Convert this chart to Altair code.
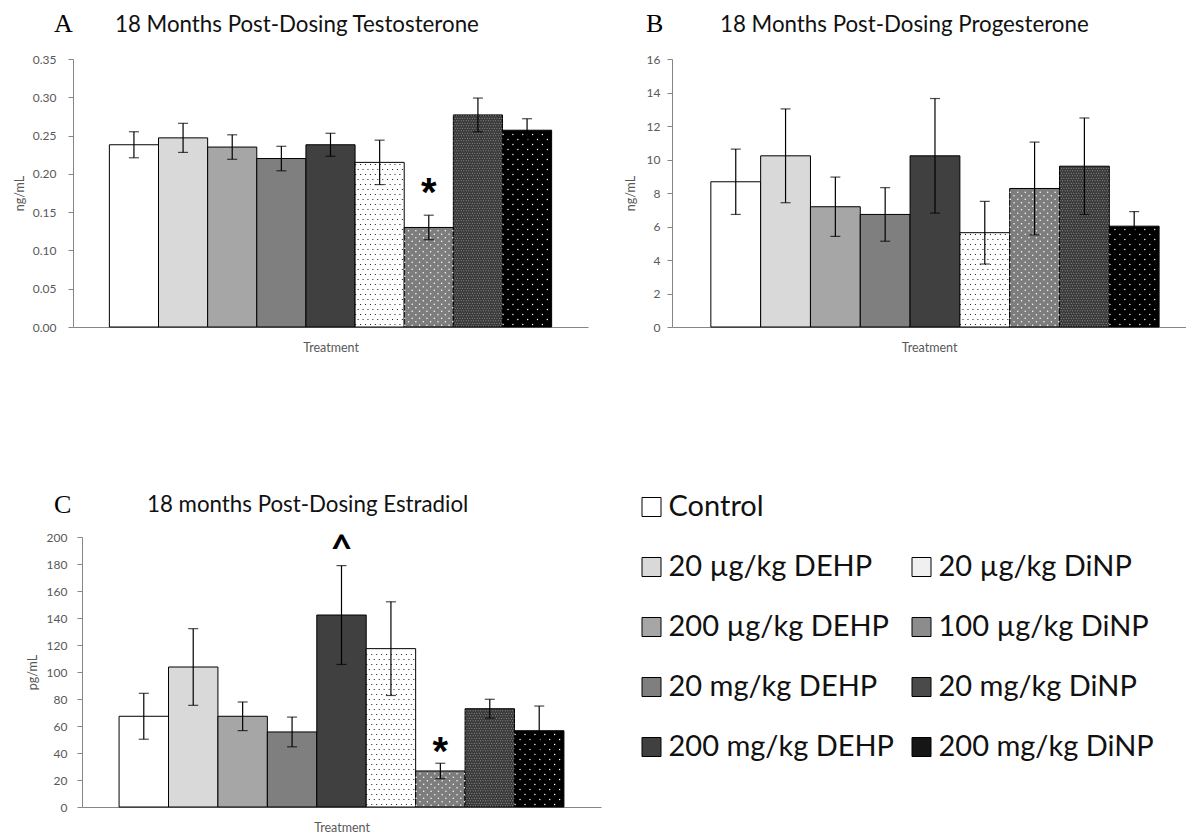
import altair as alt
import pandas as pd

# ---------------- data ----------------
treatments = ["Control", "20 µg/kg DEHP", "200 µg/kg DEHP", "20 mg/kg DEHP", "200 mg/kg DEHP",
              "20 µg/kg DiNP", "100 µg/kg DiNP", "20 mg/kg DiNP", "200 mg/kg DiNP"]

testo_mean = [0.238, 0.247, 0.235, 0.220, 0.238, 0.215, 0.130, 0.277, 0.257]
testo_err = [0.017, 0.019, 0.016, 0.016, 0.015, 0.029, 0.016, 0.022, 0.015]
prog_mean = [8.67, 10.22, 7.18, 6.72, 10.22, 5.63, 8.27, 9.60, 6.02]
prog_err = [1.95, 2.80, 1.77, 1.60, 3.42, 1.87, 2.77, 2.88, 0.87]
estr_mean = [67.2, 103.7, 67.2, 55.6, 142.2, 117.3, 26.7, 72.8, 56.5]
estr_err = [17.0, 28.4, 10.6, 11.0, 36.6, 34.7, 5.7, 7.0, 18.3]

testo_ticks = [0.00, 0.05, 0.10, 0.15, 0.20, 0.25, 0.30, 0.35]
prog_ticks = [0, 2, 4, 6, 8, 10, 12, 14, 16]
estr_ticks = [0, 20, 40, 60, 80, 100, 120, 140, 160, 180, 200]

testo_marks = [("100 µg/kg DiNP", 0.187, "*")]
prog_marks = []
estr_marks = [("200 mg/kg DEHP", 198.0, "^"), ("100 µg/kg DiNP", 47.4, "*")]

legend_col = [0, 0, 0, 0, 0, 1, 1, 1, 1]
legend_row = [0, 1, 2, 3, 4, 1, 2, 3, 4]

# ---------------- styles ----------------
bar_fills = ["#ffffff", "#d9d9d9", "#a6a6a6", "#7f7f7f", "#404040",
             "#ffffff", "#7d7d7d", "#3a3a3a", "#000000"]
legend_fills = ["#ffffff", "#d9d9d9", "#a6a6a6", "#7f7f7f", "#404040",
                "#f0f0f0", "#8c8c8c", "#4a4a4a", "#161616"]
# texture dots: treatment index -> (dot colour, sub-column step, row spacing px, dot size)
pattern_specs = {
    5: ("#000000", 4, 5.0, 1.4),
    6: ("#ffffff", 6, 3.5, 2.2),
    7: ("#a8a8a8", 2, 2.5, 1.0),
    8: ("#ffffff", 8, 5.0, 2.0),
}
NSUB = 40
FONT = "Lato"
GRAY = "#595959"
AXIS = "#868686"


def texture(mean, ymax, h):
    rows = []
    for i, (col, cstep, rpx, sz) in pattern_specs.items():
        dy = rpx * ymax / h
        k = 0
        while (k + 0.7) * dy < mean[i]:
            shift = (cstep // 2) * (k % 2)
            for o in range(shift, NSUB, cstep):
                rows.append({"x": i - 0.5 + (o + 0.5) / NSUB, "y": (k + 0.5) * dy, "c": col, "s": sz})
            k += 1
    return pd.DataFrame(rows)


def panel(letter, title, mean, err, ticks, fmt, ytitle, marks, w, h,
          pad_l, pad_r, label_pad, title_x, letter_x, letter_y, head_x, head_y):
    ymax = ticks[-1]
    n = len(treatments)
    df = pd.DataFrame({
        "t": treatments, "m": mean,
        "x0": [i - 0.5 for i in range(n)],
        "x1": [i + 0.5 for i in range(n)],
        "xc": list(range(n)),
        "lo": [m - e for m, e in zip(mean, err)],
        "hi": [m + e for m, e in zip(mean, err)],
        "f": bar_fills,
    })
    xs = alt.Scale(domain=[-0.5 - pad_l, n - 0.5 + pad_r], nice=False, zero=False)
    ys = alt.Scale(domain=[0, ymax], nice=False, zero=True)
    xax = alt.Axis(title="Treatment", labels=False, ticks=False, domain=True, grid=False,
                   titleY=20, titleBaseline="middle")
    yax = alt.Axis(title=ytitle, values=ticks, format=fmt, labelPadding=label_pad,
                   labelOverlap=False, titleX=title_x, titleBaseline="middle", grid=False)

    def X(f):
        return alt.X(f, scale=xs, axis=xax)

    def Y(f):
        return alt.Y(f, scale=ys, axis=yax)

    base = alt.Chart(df)
    bars = base.mark_bar(stroke="#000000", strokeWidth=1).encode(
        x=X("x0:Q"), x2="x1:Q",
        y=Y("m:Q"), y2=alt.datum(0),
        fill=alt.Fill("f:N", scale=None),
    )
    tex = alt.Chart(texture(mean, ymax, h)).mark_circle(opacity=1).encode(
        x=X("x:Q"), y=Y("y:Q"),
        color=alt.Color("c:N", scale=None),
        size=alt.Size("s:Q", scale=None),
    )
    rule = base.mark_rule(color="#000000", strokeWidth=1.2).encode(
        x=X("xc:Q"), y=Y("lo:Q"), y2="hi:Q")
    cap_lo = base.mark_tick(color="#000000", size=10, thickness=1.2, orient="horizontal").encode(
        x=X("xc:Q"), y=Y("lo:Q"))
    cap_hi = base.mark_tick(color="#000000", size=10, thickness=1.2, orient="horizontal").encode(
        x=X("xc:Q"), y=Y("hi:Q"))
    layers = [bars, tex, rule, cap_lo, cap_hi]
    for t, yv, s in marks:
        mdf = pd.DataFrame({"xc": [treatments.index(t)], "y": [yv], "s": [s]})
        if s == "*":
            mk = alt.Chart(mdf).mark_text(font="Liberation Sans", fontWeight="bold", fontSize=40,
                                          baseline="alphabetic", dy=22, color="#000000")
        else:
            mk = alt.Chart(mdf).mark_text(font=FONT, fontWeight="bold", fontSize=38,
                                          baseline="alphabetic", dy=22, color="#000000")
        layers.append(mk.encode(x=X("xc:Q"), y=Y("y:Q"), text="s:N"))
    lt = alt.Chart(pd.DataFrame({"s": [letter]})).mark_text(
        font="Liberation Serif", fontSize=26, align="left", baseline="alphabetic", color="#000000"
    ).encode(x=alt.value(letter_x), y=alt.value(letter_y), text="s:N")
    tt = alt.Chart(pd.DataFrame({"s": [title]})).mark_text(
        font=FONT, fontSize=22.3, align="left", baseline="alphabetic", color="#111111"
    ).encode(x=alt.value(head_x), y=alt.value(head_y), text="s:N")
    layers += [lt, tt]
    return alt.layer(*layers).properties(width=w, height=h)


pA = panel("A", "18 Months Post-Dosing Testosterone", testo_mean, testo_err, testo_ticks, ".2f",
           "ng/mL", testo_marks, 515, 268, 0.74, 0.74, 12, -54, -19, -27, 42, -27)
pB = panel("B", "18 Months Post-Dosing Progesterone", prog_mean, prog_err, prog_ticks, "d",
           "ng/mL", prog_marks, 514, 268, 0.78, 0.54, 7, -42, -26, -27, 48, -27)
pC = panel("C", "18 months Post-Dosing Estradiol", estr_mean, estr_err, estr_ticks, "d",
           "pg/mL", estr_marks, 519, 270, 0.75, 0.75, 10, -50, -28, -24, 65, -25)

leg_df = pd.DataFrame({"label": treatments, "col": legend_col, "row": legend_row, "f": legend_fills})
lx = alt.Scale(domain=[0, 1], range=[42.5, 312.5])
ly = alt.Scale(domain=[0, 4], range=[-30, 210])
leg_sq = alt.Chart(leg_df).mark_square(size=361, stroke="#000000", strokeWidth=1, opacity=1).encode(
    x=alt.X("col:Q", scale=lx, axis=None), y=alt.Y("row:Q", scale=ly, axis=None),
    fill=alt.Fill("f:N", scale=None))
leg_tx = alt.Chart(leg_df).mark_text(align="left", baseline="middle", dx=17, fontSize=29,
                                     font=FONT, color="#111111").encode(
    x=alt.X("col:Q", scale=lx, axis=None), y=alt.Y("row:Q", scale=ly, axis=None), text="label:N")
legend = alt.layer(leg_sq, leg_tx).properties(width=577, height=270)

spacer = alt.Chart(pd.DataFrame({"a": [0]})).mark_point(opacity=0).encode(
    x=alt.X("a:Q", axis=None), y=alt.Y("a:Q", axis=None)).properties(width=1, height=270)

row1 = alt.hconcat(pA, pB, spacing=84, bounds="flush")
row2 = alt.hconcat(spacer, pC, legend, spacing=8, bounds="flush")

chart = alt.vconcat(row1, row2, spacing=478, bounds="flush").properties(
    padding={"left": 5, "top": 3, "right": 0, "bottom": 0}
).configure_view(stroke=None).configure_axis(
    domainColor=AXIS, tickColor=AXIS, tickSize=5, domainWidth=1, tickWidth=1,
    labelColor=GRAY, labelFont=FONT, labelFontSize=12,
    titleColor=GRAY, titleFont=FONT, titleFontSize=12.5, titleFontWeight="normal",
)

chart.save("out.html", embed_options={"renderer": "svg", "actions": False})
